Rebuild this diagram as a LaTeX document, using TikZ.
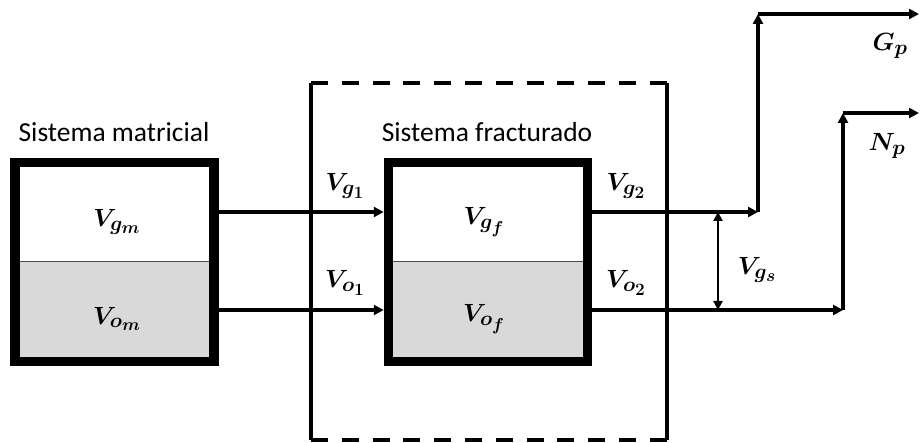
\documentclass[tikz,border=0pt]{standalone}
\usepackage{amsmath}
\usepackage{fontspec}
\setmainfont{Carlito}
\usetikzlibrary{arrows.meta}
\DeclareMathSizes{32}{32}{21}{16}
\definecolor{boxgray}{HTML}{D9D9D9}
\tikzset{
  x=1pt, y=-1pt,
  frame/.style={draw, line width=9.5pt, minimum width=199pt, minimum height=199pt, inner sep=0pt},
  flow/.style={line width=3.4pt, -{Triangle[length=10pt,width=10pt]}},
  dflow/.style={line width=2.8pt, {Triangle[length=9pt,width=9pt]}-{Triangle[length=9pt,width=9pt]}},
  lbl/.style={inner sep=0pt, font=\fontsize{32}{34}\selectfont},
  captxt/.style={inner sep=0pt, font=\fontsize{27.5}{30}\selectfont},
  encl/.style={line width=3.3pt}
}
\begin{document}
\begin{tikzpicture}
\useasboundingbox (0,0) rectangle (920,443);
% fills
\fill[boxgray] (14.5,262) rectangle (214.5,361.5);
\fill[boxgray] (388.5,262) rectangle (587.5,361.5);
\draw[line width=1pt, black!70] (14.5,262) -- (214.5,262);
\draw[line width=1pt, black!70] (388.5,262) -- (587.5,262);
% boxes
\node[frame] (mbox) at (114.5,262) {};
\node[frame] (fbox) at (488,262) {};
% enclosure
\coordinate (e1) at (311,83);
\coordinate (e2) at (667,83);
\coordinate (e3) at (667,440);
\coordinate (e4) at (311,440);
\draw[encl] (e1) -- (e4);
\draw[encl] (e2) -- (e3);
\draw[encl, dash pattern=on 17pt off 13.8pt] (e1) -- (e2);
\draw[encl, dash pattern=on 17pt off 13.8pt] (e4) -- (e3);
% captions
\node[captxt] (tm) at (114,132) {Sistema matricial};
\node[captxt] (tf) at (487,132) {Sistema fracturado};
% labels in boxes
\node[lbl] (vgm) at (117,222) {$\boldsymbol{V_{g_m}}$};
\node[lbl] (vom) at (117,319) {$\boldsymbol{V_{o_m}}$};
\node[lbl] (vgf) at (484,222) {$\boldsymbol{V_{g_f}}$};
\node[lbl] (vof) at (484,319) {$\boldsymbol{V_{o_f}}$};
% flow coordinates
\coordinate (gA) at (mbox.east |- 0,212);
\coordinate (gB) at (fbox.west |- 0,212);
\coordinate (oA) at (mbox.east |- 0,310);
\coordinate (oB) at (fbox.west |- 0,310);
\coordinate (gC) at (fbox.east |- 0,212);
\coordinate (oC) at (fbox.east |- 0,310);
\coordinate (gD) at (758,212);
\coordinate (gE) at (758,14);
\coordinate (gF) at (919,14);
\coordinate (oD) at (843,310);
\coordinate (oE) at (843,113);
\coordinate (oF) at (919,113);
\coordinate (sA) at (718,212);
\coordinate (sB) at (718,310);
\draw[flow] (gA) -- (gB);
\draw[flow] (oA) -- (oB);
\draw[flow] (gC) -- (gD);
\draw[flow] (gD) -- (gE);
\draw[flow] (gE) -- (gF);
\draw[flow] (oC) -- (oD);
\draw[flow] (oD) -- (oE);
\draw[flow] (oE) -- (oF);
\draw[dflow] (sA) -- (sB);
% flow labels
\node[lbl] (vg1) at (345,186) {$\boldsymbol{V_{g_1}}$};
\node[lbl] (vo1) at (345,283) {$\boldsymbol{V_{o_1}}$};
\node[lbl] (vg2) at (626,186) {$\boldsymbol{V_{g_2}}$};
\node[lbl] (vo2) at (626,283) {$\boldsymbol{V_{o_2}}$};
\node[lbl] (vgs) at (757,270) {$\boldsymbol{V_{g_s}}$};
\node[lbl] (gp) at (890,46) {$\boldsymbol{G_p}$};
\node[lbl] (np) at (887,146) {$\boldsymbol{N_p}$};
\end{tikzpicture}
\end{document}
